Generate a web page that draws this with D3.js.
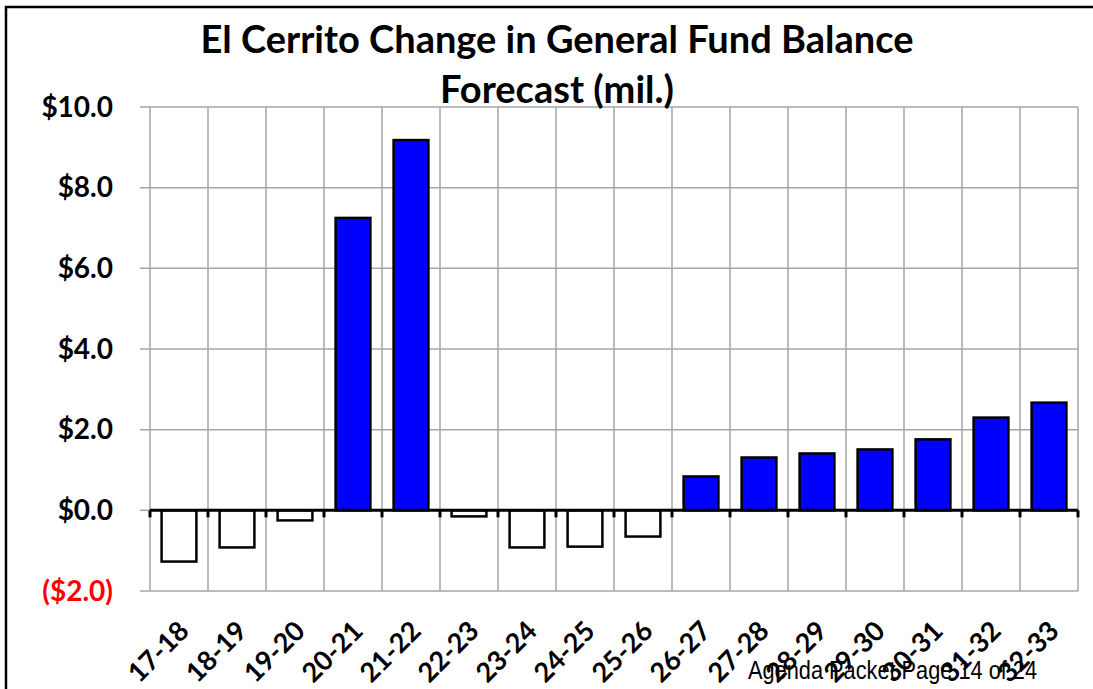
<!DOCTYPE html>
<html><head><meta charset="utf-8">
<script src="https://cdn.jsdelivr.net/npm/d3@7"></script>
<style>body{margin:0;background:#fff;}svg{display:block;}</style>
</head><body>
<svg id="c" width="1093" height="689"></svg>
<script>
const categories = ["17-18","18-19","19-20","20-21","21-22","22-23","23-24","24-25","25-26","26-27","27-28","28-29","29-30","30-31","31-32","32-33"];
const values = [-1.27,-0.92,-0.25,7.25,9.18,-0.15,-0.92,-0.9,-0.65,0.84,1.31,1.41,1.51,1.76,2.30,2.67];
const yTicks = [-2,0,2,4,6,8,10];
const titleLines = ["El Cerrito Change in General Fund Balance","Forecast (mil.)"];
const footer = "Agenda Packet Page 14 of 24";

const svg = d3.select("#c");
const m = {left:150, right:1078, top:107, bottom:591};
const x = d3.scaleBand().domain(categories).range([m.left,m.right]).paddingInner(0.4).paddingOuter(0.2);
const xb = d3.scaleBand().domain(categories).range([m.left,m.right]);
const y = d3.scaleLinear().domain([-2,10]).range([m.bottom,m.top]);
const font = "Lato, 'Open Sans', sans-serif";

// outer frame
svg.append("path").attr("d", `M6,689 L6,7 L1093,7`).attr("fill","none").attr("stroke","#000").attr("stroke-width",2.5);

// horizontal gridlines
svg.append("g").selectAll("line").data(yTicks).join("line")
  .attr("x1", m.left-10).attr("x2", m.right)
  .attr("y1", d=>y(d)).attr("y2", d=>y(d))
  .attr("stroke","#a6a6a6").attr("stroke-width",1.5);
// vertical gridlines
const bounds = categories.map(c=>xb(c)).concat([m.right]);
svg.append("g").selectAll("line").data(bounds).join("line")
  .attr("x1", d=>d).attr("x2", d=>d)
  .attr("y1", m.top).attr("y2", m.bottom)
  .attr("stroke","#a6a6a6").attr("stroke-width",1.5);

// bars
svg.append("g").selectAll("rect").data(values).join("rect")
  .attr("x",(d,i)=>x(categories[i]))
  .attr("width", x.bandwidth())
  .attr("y", d=>y(Math.max(0,d)))
  .attr("height", d=>Math.abs(y(d)-y(0)))
  .attr("fill", d=>d>=0?"#0000ff":"#ffffff")
  .attr("stroke","#000").attr("stroke-width",2.5);

// zero axis
svg.append("line").attr("x1",m.left).attr("x2",m.right).attr("y1",y(0)).attr("y2",y(0))
  .attr("stroke","#000").attr("stroke-width",3);
svg.append("g").selectAll("line").data(bounds).join("line")
  .attr("x1",d=>d).attr("x2",d=>d).attr("y1",y(0)).attr("y2",y(0)+7)
  .attr("stroke","#000").attr("stroke-width",3);

// y labels
const fmt = d => d<0 ? `($${Math.abs(d).toFixed(1)})` : `$${d.toFixed(1)}`;
svg.append("g").selectAll("text").data(yTicks).join("text")
  .attr("x",113).attr("y",d=>y(d)).attr("dy","0.35em")
  .attr("text-anchor","end")
  .attr("font-family",font).attr("font-weight","bold").attr("font-size",28)
  .attr("fill",d=>d<0?"#ff0000":"#000")
  .text(fmt);

// x labels
svg.append("g").selectAll("text").data(categories).join("text")
  .attr("transform",d=>`translate(${xb(d)+xb.bandwidth()/2+5},${626}) rotate(-45)`)
  .attr("text-anchor","end").attr("dy","0.35em")
  .attr("font-family",font).attr("font-weight","bold").attr("font-size",27)
  .text(d=>d);

// title
svg.append("g").selectAll("text").data(titleLines).join("text")
  .attr("x",557).attr("y",(d,i)=>53+i*50)
  .attr("text-anchor","middle")
  .attr("font-family",font).attr("font-weight","bold").attr("font-size",38)
  .text(d=>d);

// footer
svg.append("text").attr("x",748).attr("y",679)
  .attr("font-family","'Liberation Sans', Arial, sans-serif")
  .attr("font-size",25).attr("textLength",289).attr("lengthAdjust","spacingAndGlyphs")
  .attr("fill","#000").text(footer);
</script>
</body></html>
